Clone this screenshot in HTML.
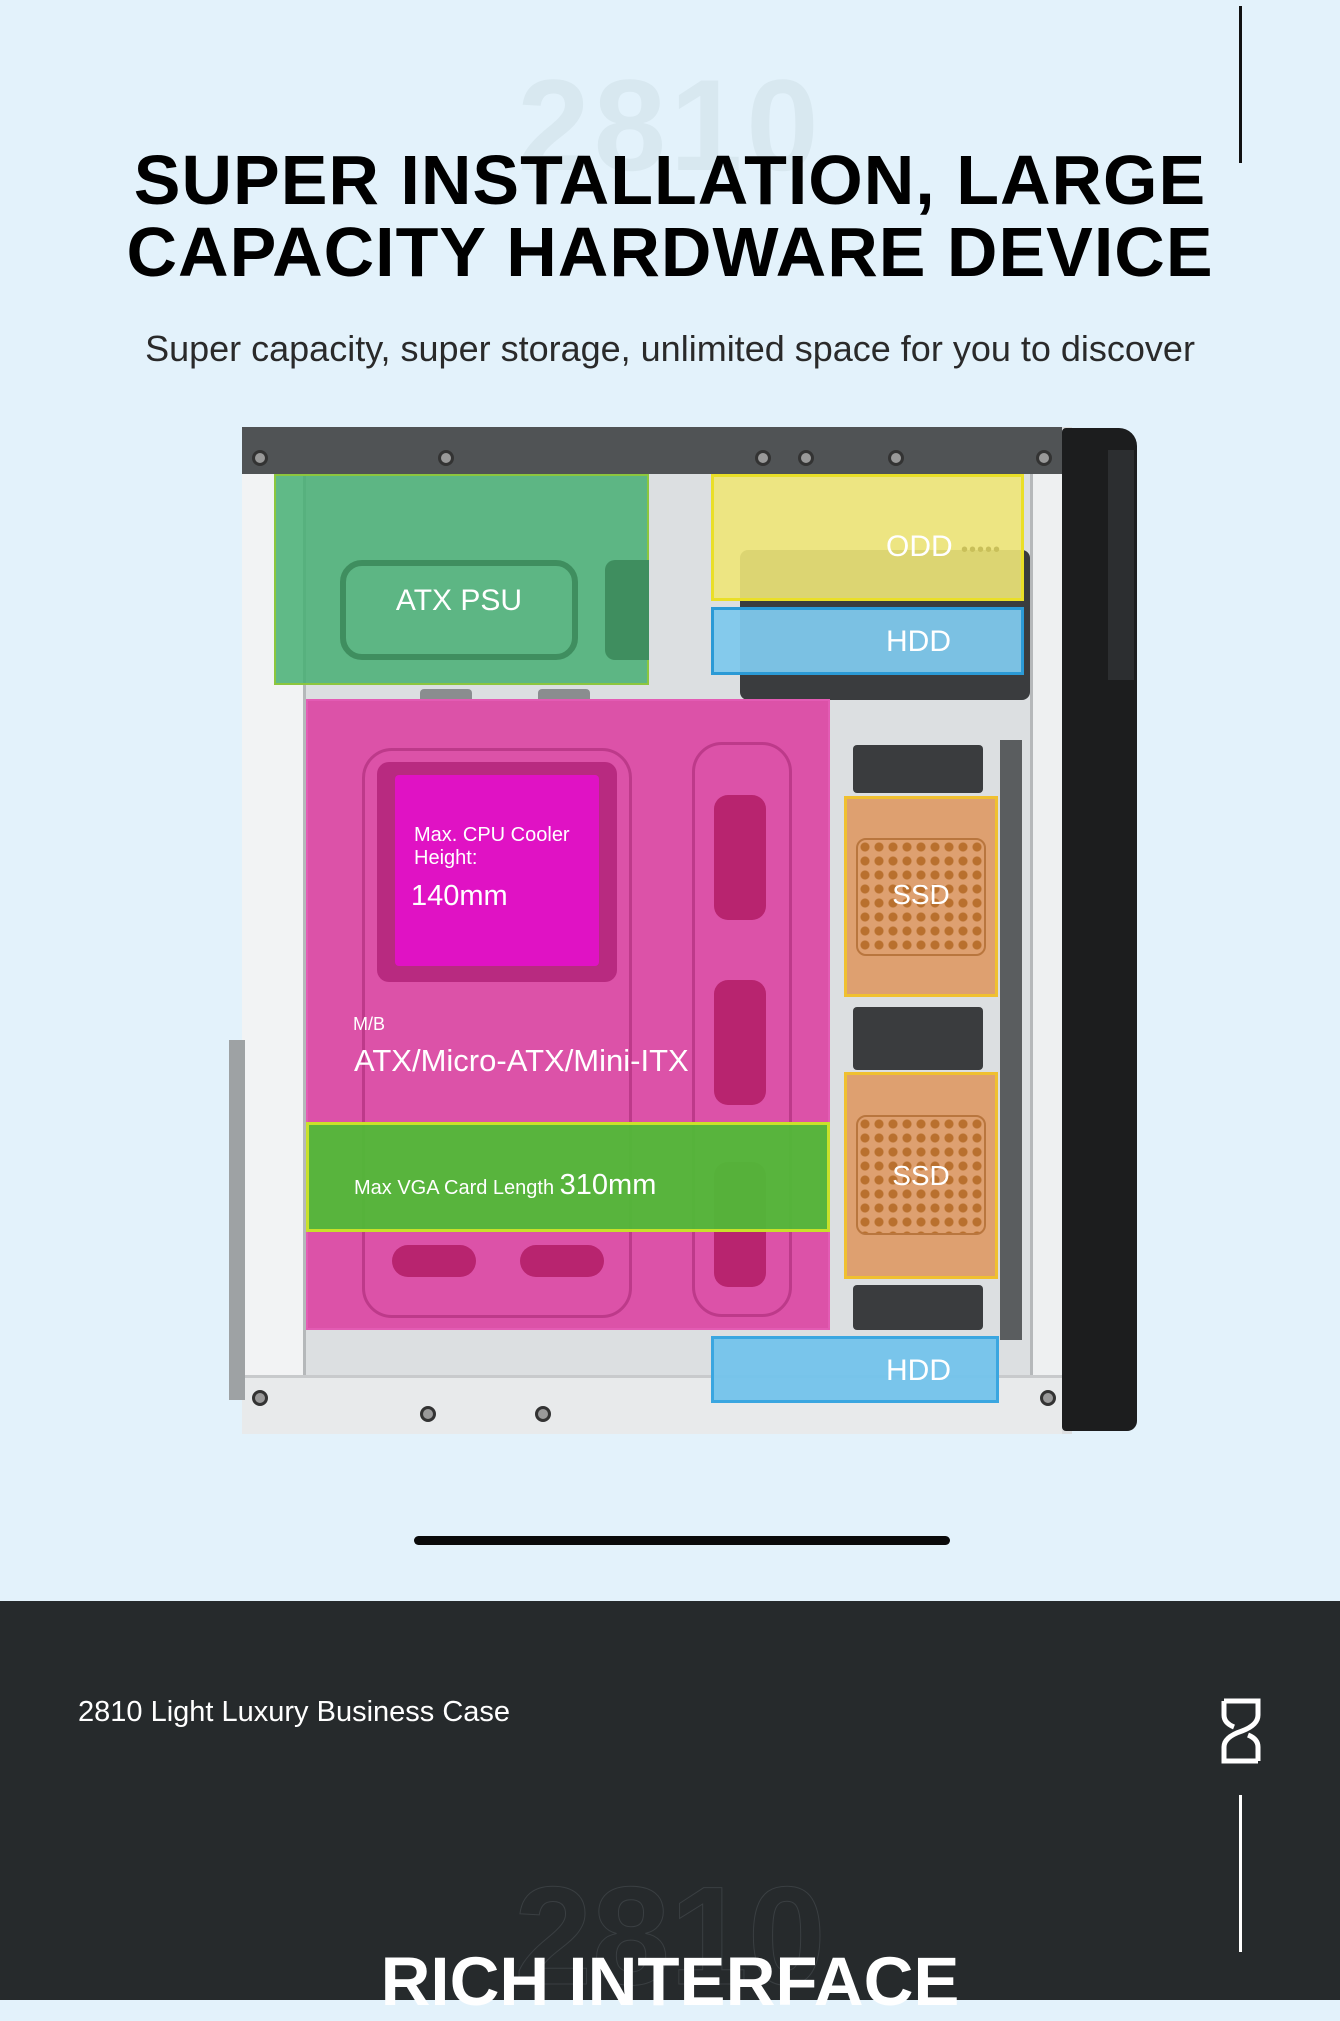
<!DOCTYPE html>
<html><head><meta charset="utf-8">
<style>
*{margin:0;padding:0;box-sizing:border-box}
body{width:1340px;height:2000px;position:relative;overflow:hidden;background:#e3f2fb;font-family:"Liberation Sans",sans-serif}
.a{position:absolute}
.t{color:#fff;white-space:nowrap}
.scr{position:absolute;width:16px;height:16px;border-radius:50%;border:3px solid #333;background:#999}
</style></head><body>
<div class="a" style="left:1239px;top:6px;width:3px;height:157px;background:#111"></div>
<div class="a" style="left:0;top:50px;width:1340px;text-align:center;font-size:130px;font-weight:bold;color:#d8e8f0;letter-spacing:4px">2810</div>
<div class="a" style="left:0;top:144px;width:1340px;text-align:center;font-size:70px;line-height:72px;font-weight:bold;color:#000;letter-spacing:1px">SUPER INSTALLATION, LARGE<br>CAPACITY HARDWARE DEVICE</div>
<div class="a" style="left:0;top:328px;width:1340px;text-align:center;font-size:36px;color:#2a2a2a">Super capacity, super storage, unlimited space for you to discover</div>

<!-- case -->
<div class="a" style="left:242px;top:427px;width:830px;height:1007px;background:#dcdfe1"></div>
<div class="a" style="left:242px;top:474px;width:64px;height:950px;background:#f2f3f4;border-right:3px solid #b5b8ba"></div>
<div class="a" style="left:1030px;top:474px;width:32px;height:950px;background:#eef0f1;border-left:3px solid #b5b8ba"></div>
<div class="a" style="left:242px;top:427px;width:820px;height:47px;background:#505355"></div>
<div class="a" style="left:1062px;top:428px;width:75px;height:1003px;background:#1c1d1e;border-radius:4px 18px 10px 4px"></div>
<div class="a" style="left:1108px;top:450px;width:26px;height:230px;background:#2c2e30"></div>
<div class="a" style="left:242px;top:1375px;width:820px;height:59px;background:#e8eaeb;border-top:3px solid #c8cacc"></div>
<div class="a" style="left:229px;top:1040px;width:16px;height:360px;background:#9ea2a4"></div>
<div class="scr" style="left:252px;top:450px"></div><div class="scr" style="left:438px;top:450px"></div><div class="scr" style="left:755px;top:450px"></div><div class="scr" style="left:798px;top:450px"></div><div class="scr" style="left:888px;top:450px"></div><div class="scr" style="left:1036px;top:450px"></div>
<div class="scr" style="left:252px;top:1390px"></div><div class="scr" style="left:420px;top:1406px"></div><div class="scr" style="left:535px;top:1406px"></div><div class="scr" style="left:1040px;top:1390px"></div>
<div class="a" style="left:740px;top:550px;width:290px;height:150px;background:#3a3c3e;border-radius:8px"></div>
<div class="a" style="left:853px;top:745px;width:130px;height:48px;background:#3a3c3e;border-radius:4px"></div>
<div class="a" style="left:853px;top:1007px;width:130px;height:63px;background:#3a3c3e;border-radius:4px"></div>
<div class="a" style="left:853px;top:1285px;width:130px;height:45px;background:#3a3c3e;border-radius:4px"></div>
<div class="a" style="left:1000px;top:740px;width:22px;height:600px;background:#5a5d5f"></div>
<div class="a" style="left:420px;top:689px;width:52px;height:14px;background:#8a8d8f;border-radius:4px"></div>
<div class="a" style="left:538px;top:689px;width:52px;height:14px;background:#8a8d8f;border-radius:4px"></div>

<div class="a" style="left:274px;top:474px;width:375px;height:211px;background:rgba(70,175,115,.85);border:2px solid #8cc63e"></div>
<div class="a" style="left:340px;top:560px;width:238px;height:100px;border:6px solid #3f8e5f;border-radius:22px"></div>
<div class="a" style="left:605px;top:560px;width:44px;height:100px;background:#3f8e5f;border-radius:10px 0 0 10px"></div>
<div class="a t" style="left:340px;top:584px;width:238px;text-align:center;font-size:30px">ATX PSU</div>
<div class="a" style="left:711px;top:474px;width:313px;height:127px;background:rgba(238,230,120,.9);border:3px solid #eadf27"></div>
<div class="a t" style="left:886px;top:530px;font-size:30px">ODD <span style="font-size:20px;letter-spacing:1px;color:#c9c05a">•••••</span></div>
<div class="a" style="left:711px;top:607px;width:313px;height:68px;background:rgba(126,200,236,.95);border:3px solid #2b9ad6"></div>
<div class="a t" style="left:886px;top:625px;font-size:30px">HDD</div>
<div class="a" style="left:306px;top:699px;width:524px;height:631px;background:#dc52a8;border:2px solid #e35cb4"></div>
<div class="a" style="left:362px;top:748px;width:270px;height:570px;border:3px solid #bd3a8a;border-radius:30px"></div>
<div class="a" style="left:692px;top:742px;width:100px;height:575px;border:3px solid #bd3a8a;border-radius:30px"></div>
<div class="a" style="left:714px;top:795px;width:52px;height:125px;background:#b8246f;border-radius:14px"></div>
<div class="a" style="left:714px;top:980px;width:52px;height:125px;background:#b8246f;border-radius:14px"></div>
<div class="a" style="left:714px;top:1162px;width:52px;height:125px;background:#b8246f;border-radius:14px"></div>
<div class="a" style="left:392px;top:1245px;width:84px;height:32px;background:#b8246f;border-radius:16px"></div>
<div class="a" style="left:520px;top:1245px;width:84px;height:32px;background:#b8246f;border-radius:16px"></div>
<div class="a" style="left:377px;top:762px;width:240px;height:220px;background:#b82a80;border-radius:12px"></div>
<div class="a" style="left:395px;top:775px;width:204px;height:191px;background:#e012c4;border-radius:4px"></div>
<div class="a t" style="left:414px;top:824px;font-size:20px;line-height:23px">Max. CPU Cooler<br>Height:</div>
<div class="a t" style="left:411px;top:880px;font-size:29px">140mm</div>
<div class="a t" style="left:353px;top:1014px;font-size:18px">M/B</div>
<div class="a t" style="left:354px;top:1043px;font-size:31px">ATX/Micro-ATX/Mini-ITX</div>
<div class="a" style="left:306px;top:1122px;width:524px;height:110px;background:rgba(80,185,55,.95);border:3px solid #c9e02a"></div>
<div class="a t" style="left:354px;top:1169px;font-size:20px">Max VGA Card Length <span style="font-size:29px">310mm</span></div>
<div class="a" style="left:844px;top:796px;width:154px;height:201px;background:#dea070;border:3px solid #f0c030"></div>
<div class="a" style="left:856px;top:838px;width:130px;height:118px;border:2px solid #b9763e;border-radius:10px;background:radial-gradient(circle,#b9702e 4px,transparent 5px) 0 0/14px 14px"></div>
<div class="a t" style="left:844px;top:879px;width:154px;text-align:center;font-size:28px">SSD</div>
<div class="a" style="left:844px;top:1072px;width:154px;height:207px;background:#dea070;border:3px solid #f0c030"></div>
<div class="a" style="left:856px;top:1115px;width:130px;height:120px;border:2px solid #b9763e;border-radius:10px;background:radial-gradient(circle,#b9702e 4px,transparent 5px) 0 0/14px 14px"></div>
<div class="a t" style="left:844px;top:1160px;width:154px;text-align:center;font-size:28px">SSD</div>
<div class="a" style="left:711px;top:1336px;width:288px;height:67px;background:rgba(115,195,235,.95);border:3px solid #3aa6e0"></div>
<div class="a t" style="left:886px;top:1354px;font-size:30px">HDD</div>

<div class="a" style="left:414px;top:1536px;width:536px;height:9px;background:#0a0a0a;border-radius:5px"></div>

<div class="a" style="left:0;top:1601px;width:1340px;height:399px;background:#262a2c"></div>
<div class="a" style="left:78px;top:1696px;font-size:29px;color:#fff">2810 Light Luxury Business Case</div>
<svg class="a" style="left:1216px;top:1697px" width="48" height="68" viewBox="0 0 48 68"><path d="M8 4 H42 V18 Q42 28 26 34 Q8 40 8 50 V64 H42" fill="none" stroke="#fff" stroke-width="5"/><path d="M8 4 V18 Q8 26 18 30" fill="none" stroke="#fff" stroke-width="5"/><path d="M42 64 V50 Q42 42 32 38" fill="none" stroke="#fff" stroke-width="5"/></svg>
<div class="a" style="left:1239px;top:1795px;width:3px;height:157px;background:#fff"></div>
<div class="a" style="left:0;top:1855px;width:1340px;text-align:center;font-size:140px;font-weight:bold;color:#262a2c;-webkit-text-stroke:1px #3a3f42">2810</div>
<div class="a" style="left:0;top:1942px;width:1340px;text-align:center;font-size:69px;font-weight:bold;color:#fff">RICH INTERFACE</div>
</body></html>
